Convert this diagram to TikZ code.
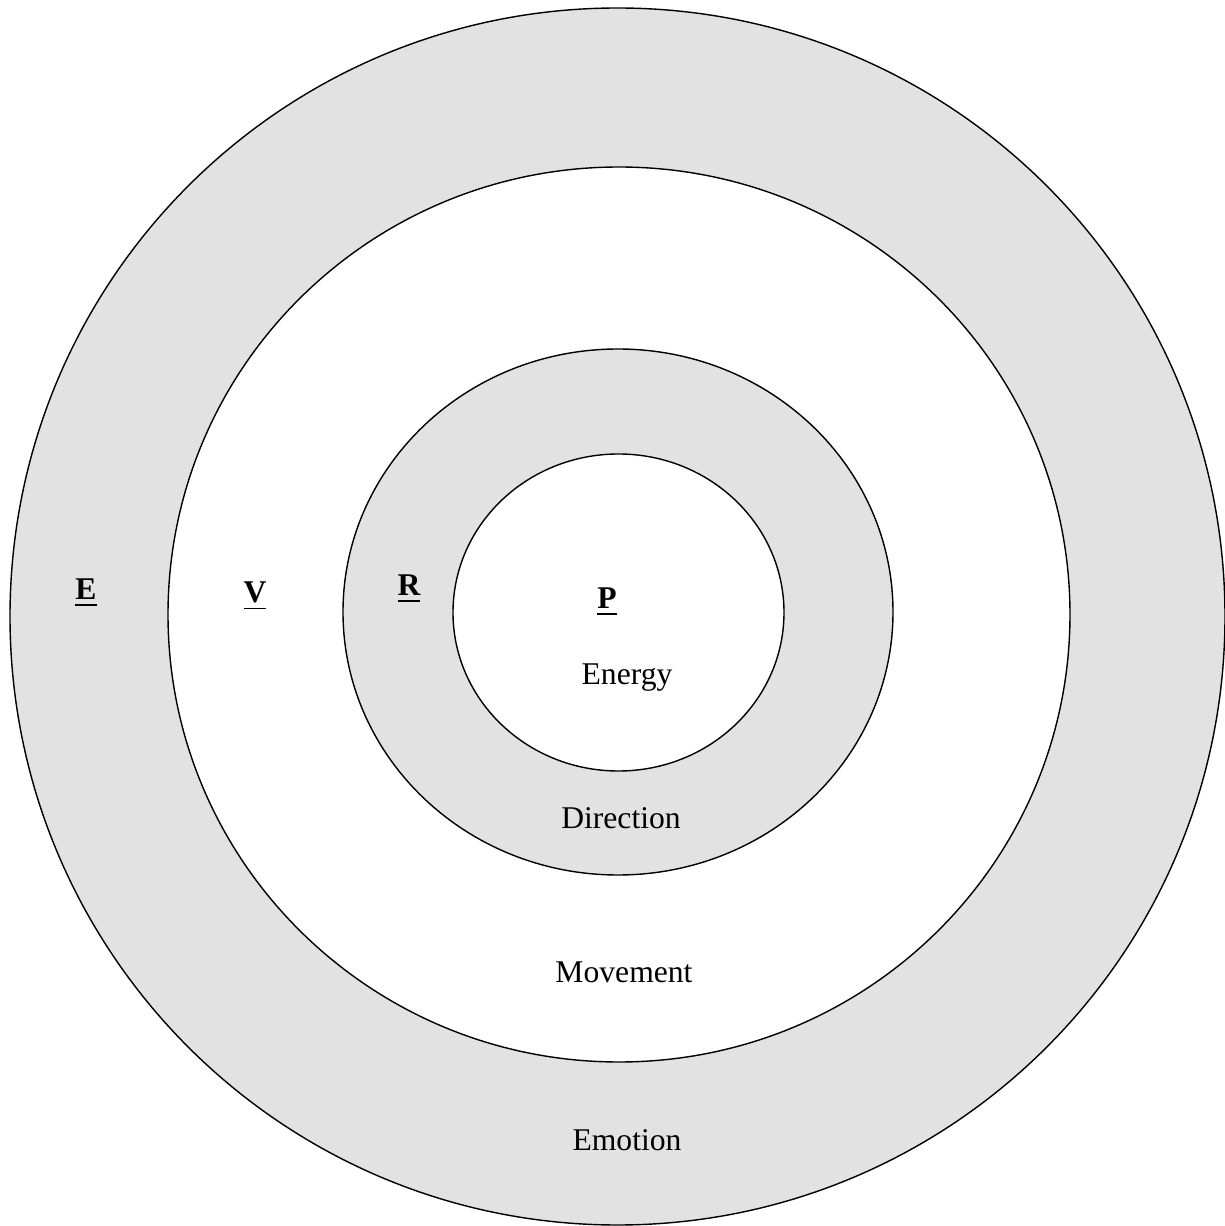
\documentclass[tikz,border=0pt]{standalone}
\usepackage{fontspec}
\setmainfont{Liberation Serif}
\definecolor{ringgray}{RGB}{226,226,226}
\tikzset{
  ring/.style={
    draw,
    line width=0.4pt,
    fill=ringgray
  },
  hole/.style={
    draw,
    line width=0.4pt,
    fill=white
  },
  letter/.style={
    anchor=base,
    inner sep=0pt,
    font=\fontsize{9}{11}\selectfont\bfseries
  },
  word/.style={
    anchor=base,
    inner sep=0pt,
    font=\fontsize{9}{11}\selectfont
  }
}
\begin{document}
\begin{tikzpicture}
  \useasboundingbox (0,0) rectangle (12.25,12.26);
  % rings, outside in
  \draw[ring] (6.175,6.095) ellipse [x radius=6.075cm, y radius=6.085cm];
  \draw[hole] (6.19,6.115) ellipse [x radius=4.51cm, y radius=4.475cm];
  \draw[ring] (6.18,6.14) ellipse [x radius=2.75cm, y radius=2.63cm];
  \draw[hole] (6.185,6.135) ellipse [x radius=1.655cm, y radius=1.585cm];
  % letters
  \node[letter] (e) at (0.86,6.26) {\underline{E}};
  \node[letter] (v) at (2.55,6.23) {\underline{V}};
  \node[letter] (r) at (4.09,6.30) {\underline{R}};
  \node[letter] (p) at (6.07,6.17) {\underline{P}};
  % words
  \node[word] (energy) at (6.27,5.41) {Energy};
  \node[word] (direction) at (6.21,3.97) {Direction};
  \node[word] (movement) at (6.24,2.43) {Movement};
  \node[word] (emotion) at (6.27,0.75) {Emotion};
\end{tikzpicture}
\end{document}
